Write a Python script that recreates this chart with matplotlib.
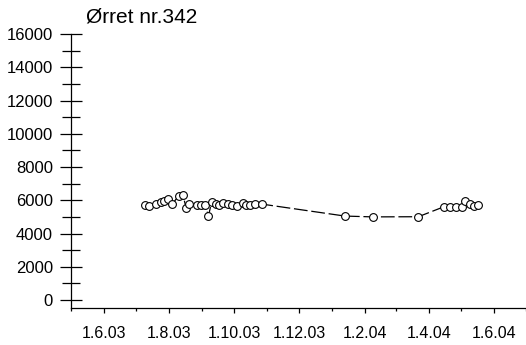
import pandas as pd
import matplotlib
matplotlib.use('Agg')
import matplotlib.pyplot as plt
import matplotlib.dates as mdates

plt.rcParams['font.family'] = ['Liberation Sans', 'DejaVu Sans']

# %% DATA
title = 'Ørret nr.342'

dates = ['2003-07-09', '2003-07-13', '2003-07-20', '2003-07-24', '2003-07-27',
         '2003-07-31', '2003-08-04', '2003-08-10', '2003-08-14', '2003-08-17',
         '2003-08-20', '2003-08-27', '2003-08-31', '2003-09-04', '2003-09-07',
         '2003-09-10', '2003-09-14', '2003-09-17', '2003-09-21', '2003-09-25',
         '2003-09-29', '2003-10-04', '2003-10-09', '2003-10-12', '2003-10-16',
         '2003-10-21', '2003-10-27', '2004-01-13', '2004-02-08', '2004-03-22',
         '2004-04-15', '2004-04-21', '2004-04-26', '2004-05-02', '2004-05-05',
         '2004-05-09', '2004-05-13', '2004-05-17']
values = [5710, 5650, 5770, 5880, 5950,
          6080, 5770, 6260, 6330, 5550,
          5770, 5730, 5730, 5710, 5050,
          5910, 5770, 5710, 5850, 5760,
          5710, 5650, 5820, 5700, 5700,
          5770, 5770, 5050, 5000, 5010,
          5610, 5610, 5580, 5580, 5950,
          5750, 5630, 5730]

x_start, x_end = '2003-05-01', '2004-07-01'
y_ticks = range(0, 16001, 2000)

df = pd.DataFrame({'date': pd.to_datetime(dates), 'value': values})

# %% PLOT
fig = plt.figure(figsize=(5.26, 3.45), dpi=100, facecolor='white')
ax = fig.add_axes([71/526, 37/345, 455/526, 274/345])

ax.plot(df.date, df.value, color='black', lw=0.9, dashes=(11, 3),
        marker='o', ms=5.6, mfc='white', mec='black', mew=0.8)

ax.set_xlim(pd.Timestamp(x_start), pd.Timestamp(x_end))
ax.set_ylim(-480, 16000)

ax.xaxis.set_major_locator(mdates.MonthLocator(bymonth=[2, 4, 6, 8, 10, 12]))
ax.xaxis.set_minor_locator(mdates.MonthLocator())
ax.xaxis.set_major_formatter(
    plt.FuncFormatter(lambda v, pos: '{0.day}.{0.month}.{0:%y}'.format(mdates.num2date(v))))
ax.set_yticks(list(y_ticks))
ax.set_yticks(range(1000, 16000, 2000), minor=True)

# Hide the right and top spines
ax.spines['right'].set_visible(False)
ax.spines['top'].set_visible(False)
for sp in ['left', 'bottom']:
    ax.spines[sp].set_linewidth(0.9)

ax.tick_params(axis='x', which='major', direction='out', length=3.8, width=0.9,
               pad=9, labelsize=11.5)
ax.tick_params(axis='x', which='minor', direction='out', length=2.2, width=0.9)
ax.tick_params(axis='y', which='major', direction='inout', length=16, width=0.9,
               pad=5, labelsize=12)
ax.tick_params(axis='y', which='minor', direction='inout', length=13, width=0.9)

fig.text(86/526, 1 - 17/345, title, fontsize=15, va='center', ha='left')

fig.savefig('out.png', dpi=100, facecolor='white')
